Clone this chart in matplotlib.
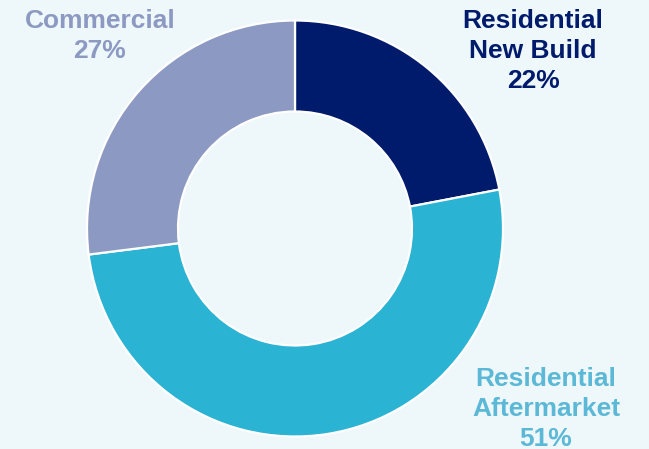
import matplotlib.pyplot as plt

# end-market split
segments = ["Residential\nNew Build", "Residential\nAftermarket", "Commercial"]
shares = [22, 51, 27]
colors = ["#001A6C", "#2BB3D3", "#8C99C2"]
label_colors = ["#001A6C", "#5BB8D6", "#8C99C2"]

W, H = 649, 449
bg = "#EEF7FA"

fig = plt.figure(figsize=(W / 100, H / 100), dpi=100, facecolor=bg)
ax = fig.add_axes([0, 0, 1, 1])
ax.set_facecolor(bg)

cx, cy, r = 295, H - 228.5, 208
ax.pie(shares, colors=colors, startangle=90, counterclock=False,
       center=(cx, cy), radius=r, frame=True,
       wedgeprops=dict(width=r - 117, edgecolor="white", linewidth=1.6))
ax.set_xlim(0, W)
ax.set_ylim(0, H)
ax.set_aspect("equal")
ax.axis("off")

# labels placed around the ring
label_pos = [(533, H - 51), (546, H - 409), (100, H - 36)]
for name, pct, col, (x, y) in zip(segments, shares, label_colors, label_pos):
    ax.text(x, y, f"{name}\n{pct}%", color=col, ha="center", va="center",
            ma="center", fontsize=19, fontweight="bold",
            family="Liberation Sans", linespacing=1.3)

fig.savefig("out.png", dpi=100, facecolor=bg)
